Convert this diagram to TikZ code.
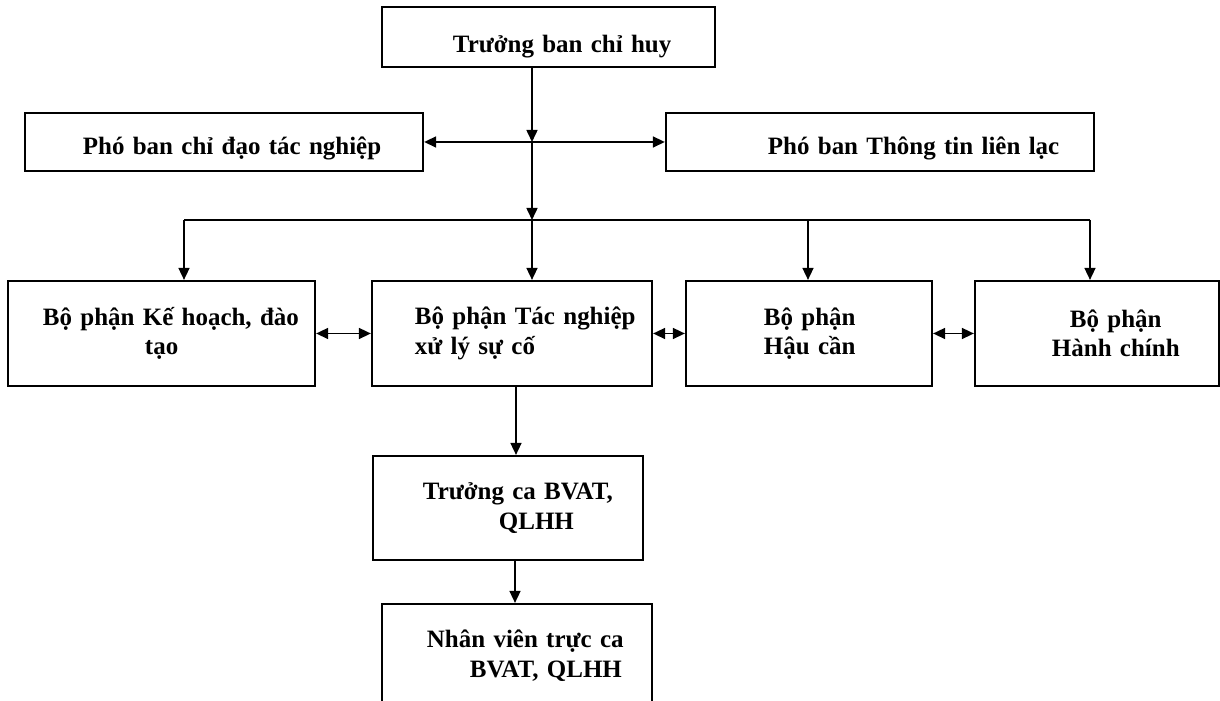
\documentclass[tikz,border=0pt]{standalone}
\usepackage{fontspec}
\setmainfont{Liberation Serif}
\usetikzlibrary{arrows.meta}
\tikzset{
  box/.style={draw=black, line width=0.6pt, inner sep=0pt, align=left, font=\bfseries\fontsize{7.1pt}{8.4pt}\selectfont},
  link/.style={draw=black, line width=0.45pt},
  arr/.style={link, -{Triangle[length=1.2mm,width=1.1mm]}},
  darr/.style={link, {Triangle[length=1.2mm,width=1.1mm]}-{Triangle[length=1.2mm,width=1.1mm]}},
}
\newcommand{\ind}[1]{\hspace*{#1cm}}
\newcommand{\lift}[1]{\rule{0pt}{#1pt}}
\begin{document}
\begin{tikzpicture}[x=0.01cm, y=-0.01cm]
  \useasboundingbox (0,0) rectangle (1220,701);
  \clip (0,0) rectangle (1220,701);
  \node[box, minimum width=3.33cm, text width=3.33cm, minimum height=0.60cm] (chief) at (548.5,37) {\lift{10.6}\ind{0.71}Trưởng ban chỉ huy};
  \node[box, minimum width=3.98cm, text width=3.98cm, minimum height=0.58cm] (depA) at (224,142) {\lift{8.6}\ind{0.58}Phó ban chỉ đạo tác nghiệp};
  \node[box, minimum width=4.28cm, text width=4.28cm, minimum height=0.58cm] (depB) at (880,142) {\lift{8.6}\ind{1.02}Phó ban Thông tin liên lạc};
  \node[box, minimum width=3.07cm, text width=3.07cm, minimum height=1.05cm] (plan) at (161.5,333.5) {\ind{0.35}Bộ phận Kế hoạch, đào\\\ind{1.37}tạo};
  \node[box, minimum width=2.80cm, text width=2.80cm, minimum height=1.05cm] (ops) at (512,333.5) {\ind{0.43}Bộ phận Tác nghiệp\\\ind{0.43}xử lý sự cố};
  \node[box, minimum width=2.46cm, text width=2.46cm, minimum height=1.05cm] (logi) at (809,333.5) {\ind{0.78}Bộ phận\\\ind{0.78}Hậu cần};
  \node[box, minimum width=2.44cm, text width=2.44cm, minimum height=1.05cm] (admin) at (1097,333.5) {\ind{0.95}Bộ phận\\\ind{0.77}Hành chính};
  \node[box, minimum width=2.70cm, text width=2.70cm, minimum height=1.04cm] (shift) at (508,508) {\ind{0.50}Trưởng ca BVAT,\\\ind{1.26}QLHH};
  \node[box, minimum width=2.70cm, text width=2.70cm, minimum height=1.04cm] (staff) at (517,656) {\ind{0.45}Nhân viên trực ca\\\ind{0.88}BVAT, QLHH};
  \coordinate (hub) at (532,142);
  \coordinate (bL) at (184,220);
  \coordinate (bM) at (808,220);
  \coordinate (bR) at (1090,220);
  \draw[arr] (chief.south -| hub) -- (hub);
  \draw[darr] (depA.east) -- (depB.west);
  \draw[arr] (hub) -- (hub |- bL);
  \draw[link] (bL) -- (bR);
  \draw[arr] (bL) -- (bL |- plan.north);
  \draw[arr] (hub |- bL) -- (hub |- ops.north);
  \draw[arr] (bM) -- (bM |- logi.north);
  \draw[arr] (bR) -- (bR |- admin.north);
  \draw[darr] (plan.east) -- (ops.west);
  \draw[darr] (ops.east) -- (logi.west);
  \draw[darr] (logi.east) -- (admin.west);
  \draw[arr] ([xshift=0.04cm]ops.south) -- ([xshift=0.04cm]ops.south |- shift.north);
  \draw[arr] ([xshift=0.07cm]shift.south) -- ([xshift=0.07cm]shift.south |- staff.north);
\end{tikzpicture}
\end{document}
